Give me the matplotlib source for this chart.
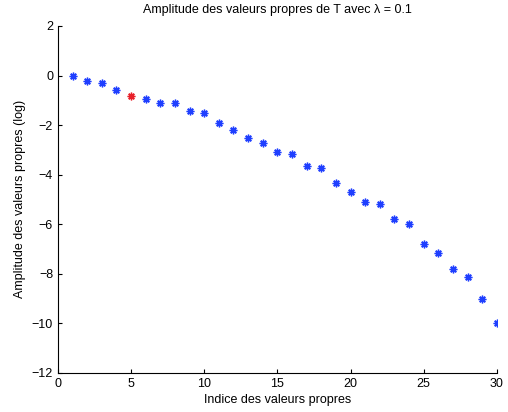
import matplotlib
matplotlib.use("Agg")
import matplotlib.pyplot as plt

plt.rcParams['font.family'] = ['Liberation Sans', 'DejaVu Sans']

indices = list(range(1, 31))
values = [0.0, -0.21, -0.32, -0.59, -0.81, -0.93, -1.09, -1.12, -1.42, -1.53,
          -1.92, -2.19, -2.51, -2.73, -3.07, -3.16, -3.65, -3.74, -4.32, -4.70,
          -5.09, -5.20, -5.81, -5.99, -6.78, -7.17, -7.82, -8.14, -9.01, -10.0]
highlight_index = 5

xticks = [0, 5, 10, 15, 20, 25, 30]
yticks = [2, 0, -2, -4, -6, -8, -10, -12]

fig = plt.figure(figsize=(5.08, 4.12), dpi=100)
ax = fig.add_axes([0.114, 0.095, 0.864, 0.842])

blue_x = [i for i in indices if i != highlight_index]
blue_y = [v for i, v in zip(indices, values) if i != highlight_index]
ax.plot(blue_x, blue_y, linestyle='none', marker=(8, 2, 0), markersize=5.5,
        markeredgewidth=1.0, color='#1f3fff')
ax.plot([highlight_index], [values[highlight_index - 1]], linestyle='none',
        marker=(8, 2, 0), markersize=5.5, markeredgewidth=1.0, color='#e8202a')

ax.set_xlim(0, 30)
ax.set_ylim(-12, 2)
ax.set_xticks(xticks)
ax.set_yticks(yticks)
ax.set_xticklabels([str(t) for t in xticks])
ax.set_yticklabels([str(t).replace('-', '\u2212') for t in yticks])
ax.tick_params(direction='in', length=3, width=0.8, labelsize=9, colors='black')
for s in ['top', 'right']:
    ax.spines[s].set_visible(False)
for s in ['left', 'bottom']:
    ax.spines[s].set_linewidth(0.8)

ax.set_xlabel('Indice des valeurs propres', fontsize=9, labelpad=3)
ax.set_ylabel('Amplitude des valeurs propres (log)', fontsize=9, labelpad=4)
ax.set_title('Amplitude des valeurs propres de T avec \u03bb = 0.1', fontsize=9, pad=9)

fig.savefig('out.png', dpi=100)
